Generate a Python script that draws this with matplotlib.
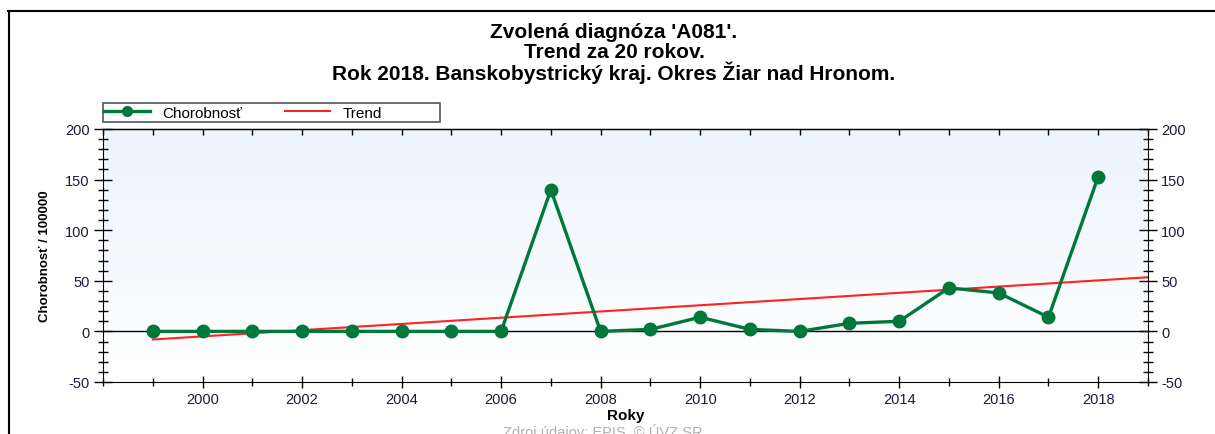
import matplotlib
matplotlib.use("Agg")
import matplotlib.pyplot as plt
from matplotlib.lines import Line2D
from matplotlib.patches import Rectangle
from matplotlib.colors import LinearSegmentedColormap
from matplotlib.ticker import MultipleLocator
import numpy as np

plt.rcParams["font.family"] = ["Liberation Sans", "DejaVu Sans"]
plt.rcParams["axes.unicode_minus"] = False

# data
roky = [1999, 2000, 2001, 2002, 2003, 2004, 2005, 2006, 2007, 2008,
        2009, 2010, 2011, 2012, 2013, 2014, 2015, 2016, 2017, 2018]
chorobnost = [0, 0, 0, 0, 0, 0, 0, 0, 140, 0,
              2, 14, 2, 0, 8, 10, 43, 38, 14, 153]
trend_roky = [1999, 2019]
trend_hodnoty = [-8, 53.5]
roky_popisky = [2000, 2002, 2004, 2006, 2008, 2010, 2012, 2014, 2016, 2018]

nadpis = ["Zvolená diagnóza 'A081'.",
          "Trend za 20 rokov.",
          "Rok 2018. Banskobystrický kraj. Okres Žiar nad Hronom."]

ZELENA = "#00783a"
CERVENA = "#ff2222"
TEXT = "#1c1c3a"

W, H = 1215, 435
fig = plt.figure(figsize=(W / 100, H / 100), dpi=100)
ax = fig.add_axes([103 / W, 1 - 383 / H, 1045 / W, 253 / H])

# pozadie: jemny prechod do modra
grad = LinearSegmentedColormap.from_list("g", ["#ffffff", "#edf4fb"])
ax.imshow(np.linspace(0, 1, 256).reshape(-1, 1), cmap=grad, aspect="auto",
          extent=[1998, 2019, -50, 200], origin="lower", zorder=0)

ax.axhline(0, color="black", lw=1.0, zorder=1)
ax.plot(trend_roky, trend_hodnoty, color=CERVENA, lw=1.5, zorder=2)
ax.plot(roky, chorobnost, color=ZELENA, lw=2.4, marker="o", ms=9, zorder=3)

ax.set_xlim(1998, 2019)
ax.set_ylim(-50, 200)

ax.set_xticks(roky_popisky)
ax.xaxis.set_minor_locator(MultipleLocator(1))
ax.yaxis.set_major_locator(MultipleLocator(50))
ax.yaxis.set_minor_locator(MultipleLocator(10))
ax.tick_params(axis="x", which="major", direction="inout", length=9, width=1,
               labelsize=10.5, labelcolor=TEXT, pad=3)
ax.tick_params(axis="x", which="minor", direction="inout", length=6, width=1)
ax.tick_params(axis="y", which="major", direction="inout", length=13, width=1,
               labelsize=10.5, labelcolor=TEXT, left=True, right=True,
               labelleft=True, labelright=True, pad=3)
ax.tick_params(axis="y", which="minor", direction="inout", length=7, width=1,
               left=True, right=True)

# horne drobne ciarky
top = ax.secondary_xaxis("top")
top.xaxis.set_major_locator(MultipleLocator(1))
top.tick_params(direction="in", length=4, width=1, labeltop=False)
top.spines["top"].set_linewidth(1.0)

ax.set_xlabel("Roky", fontsize=11, fontweight="bold", labelpad=1)
ax.set_ylabel("Chorobnosť / 100000", fontsize=9.5, fontweight="bold", labelpad=10)

# legenda
fig.add_artist(Rectangle((103 / W, 1 - 123 / H), 337 / W, 19 / H,
                         transform=fig.transFigure, fill=False,
                         edgecolor="#555555", lw=1.2))
fig.legend(handles=[
    Line2D([], [], color=ZELENA, lw=2.4, marker="o", ms=7),
    Line2D([], [], color=CERVENA, lw=1.5)],
    labels=["Chorobnosť", "Trend"], ncol=2, loc="center left",
    bbox_to_anchor=(104 / W, 1 - 113.5 / H), frameon=False, fontsize=11,
    handlelength=3.0, handletextpad=0.8, columnspacing=2.8, borderpad=0,
    borderaxespad=0)

for i, riadok in enumerate(nadpis):
    fig.text(614 / W, 1 - (32 + 20.5 * i) / H, riadok, ha="center", va="center",
             fontsize=15, fontweight="bold")

fig.text(603 / W, 1 - 432 / H, "Zdroj údajov: EPIS, © ÚVZ SR", ha="center",
         va="center", fontsize=10.5, color="#b0b0b0")

# vonkajsi ram
fig.add_artist(Line2D([8 / W, 1], [1 - 12 / H, 1 - 12 / H],
                      transform=fig.transFigure, color="black", lw=1.5))
fig.add_artist(Line2D([9 / W, 9 / W], [0, 1 - 12 / H],
                      transform=fig.transFigure, color="black", lw=1.5))

fig.savefig("out.png", dpi=100)
